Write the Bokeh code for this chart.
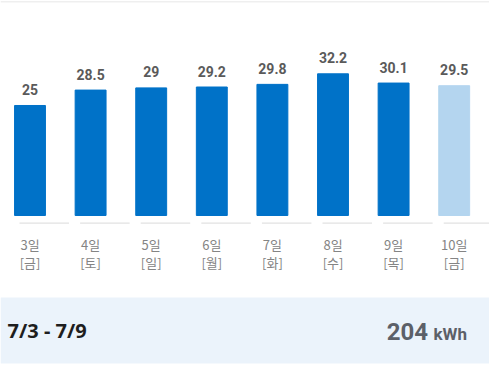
from bokeh.plotting import figure
from bokeh.models import ColumnDataSource, Range1d, BoxAnnotation, Span
from bokeh.core.properties import value
from bokeh.embed import file_html
from bokeh.resources import INLINE

# ---- data ----
days = ["3일", "4일", "5일", "6일", "7일", "8일", "9일", "10일"]
weekdays = ["[금]", "[토]", "[일]", "[월]", "[화]", "[수]", "[목]", "[금]"]
usage = [25, 28.5, 29, 29.2, 29.8, 32.2, 30.1, 29.5]
usage_labels = ["25", "28.5", "29", "29.2", "29.8", "32.2", "30.1", "29.5"]
is_estimate = [False, False, False, False, False, False, False, True]
period_label = "7/3 - 7/9"
period_total = 204
unit = "kWh"

# ---- styles ----
W, H = 489, 367
BAR_COLOR = "#0072C8"
EST_COLOR = "#B4D5EF"
LABEL_COLOR = "#5A5A5A"
TICK_COLOR = "#848484"
BAND_COLOR = "#EBF3FB"

idx = list(range(len(days)))
colors = [EST_COLOR if e else BAR_COLOR for e in is_estimate]
src = ColumnDataSource(dict(x=idx, top=usage, lab=usage_labels, day=days,
                            wd=weekdays, color=colors,
                            zero=[0] * len(idx),
                            x0=[i - 0.173 for i in idx],
                            x1=[i + 0.644 for i in idx],
                            base=[-1.75] * len(idx)))

x_start, x_end = -0.4868, 7.5825
y_start, y_end = -34.545, 48.86
p = figure(width=W, height=H, output_backend="svg", toolbar_location=None,
           x_range=Range1d(x_start, x_end), y_range=Range1d(y_start, y_end),
           min_border=0, outline_line_color=None, background_fill_color="white",
           border_fill_color="white")
p.axis.visible = False
p.grid.visible = False

band = BoxAnnotation(top=-18.64, bottom=-33.64, fill_color=BAND_COLOR,
                     fill_alpha=1.0, line_color=None, level="underlay")
p.add_layout(band)
p.add_layout(Span(location=48.6, dimension="width", line_color="#EFEFEF",
                  line_width=1.5))

p.segment(x0="x0", x1="x1", y0="base", y1="base", source=src,
          line_color="#E2E2E2", line_width=1.2)

p.vbar(x="x", top="top", bottom=0, width=0.51, source=src,
       fill_color="color", line_color="color")

p.text(x="x", y="top", text="lab", source=src, y_offset=-16,
       text_align="center", text_baseline="middle",
       text_font=value("Roboto"), text_font_style="bold",
       text_font_size="14px", text_color=LABEL_COLOR)

p.text(x="x", y="zero", text="day", source=src, y_offset=29,
       text_align="center", text_baseline="middle",
       text_font=value("Noto Sans CJK KR"), text_font_size="13px",
       text_color=TICK_COLOR)
p.text(x="x", y="zero", text="wd", source=src, y_offset=47,
       text_align="center", text_baseline="middle",
       text_font=value("Noto Sans CJK KR"), text_font_size="13px",
       text_color=TICK_COLOR)

p.text(x=[x_start], y=[0], text=[period_label], x_offset=7, y_offset=115,
       text_align="left", text_baseline="middle",
       text_font=value("Noto Sans"), text_font_style="bold",
       text_font_size="20px", text_color="#1E1E1E")

p.text(x=[x_end], y=[0], text=[str(period_total)], x_offset=-61.5,
       y_offset=116, text_align="right", text_baseline="middle",
       text_font=value("Roboto"), text_font_style="bold",
       text_font_size="24px", text_color="#5C6068")
p.text(x=[x_end], y=[0], text=[unit], x_offset=-22.5,
       y_offset=119, text_align="right", text_baseline="middle",
       text_font=value("Roboto"), text_font_style="bold",
       text_font_size="17px", text_color="#5C6068")

open("out.html", "w").write(file_html(p, INLINE))
